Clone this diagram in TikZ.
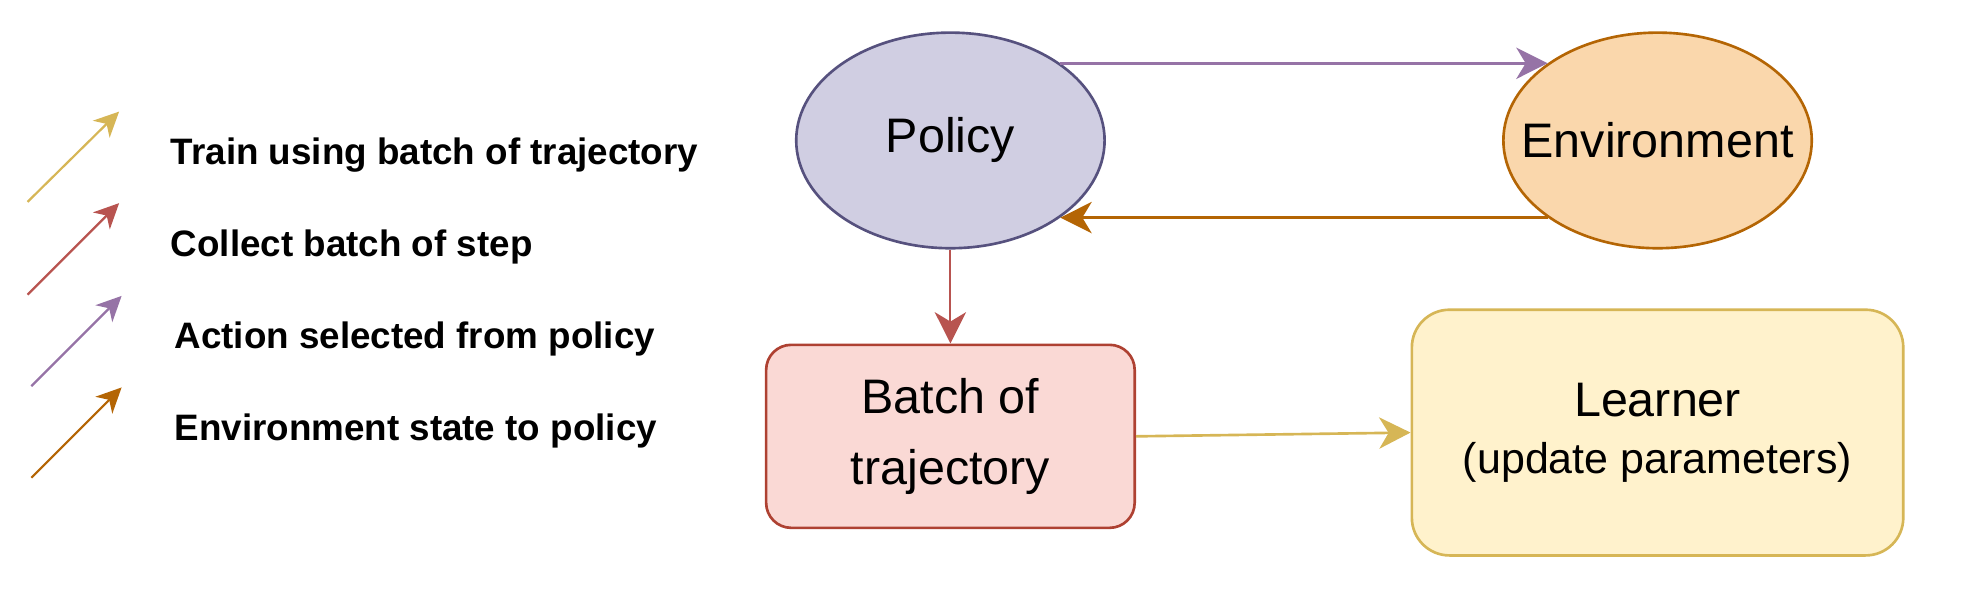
\documentclass[tikz,border=0pt]{standalone}
\usepackage{fontspec}
\setmainfont{Liberation Sans}
\usetikzlibrary{shapes.geometric,arrows.meta}
\definecolor{polF}{HTML}{D0CEE2}\definecolor{polD}{HTML}{56517E}
\definecolor{envF}{HTML}{FAD7AC}\definecolor{envD}{HTML}{B46504}
\definecolor{batF}{HTML}{FAD9D5}\definecolor{batD}{HTML}{AE4132}
\definecolor{lrnF}{HTML}{FFF2CC}\definecolor{lrnD}{HTML}{D6B656}
\definecolor{aPur}{HTML}{9673A6}\definecolor{aOra}{HTML}{B46504}
\definecolor{aRed}{HTML}{B85450}\definecolor{aYel}{HTML}{D6B656}
\begin{document}
\begin{tikzpicture}[x=0.02cm,y=-0.02cm,
  ell/.style={ellipse,draw,line width=1.2pt,minimum width=4.92cm,minimum height=3.44cm,inner sep=0pt,label={[font=\fontsize{22}{26}\selectfont]center:#1}},
  box/.style={rectangle,rounded corners=0.4cm,draw,line width=1.2pt,align=center,inner sep=0pt,font=\fontsize{22}{32}\selectfont},
  conn/.style={line width=1.2pt,-{Stealth[length=0.5cm,width=0.5cm,inset=0.15cm]}},
  leg/.style={line width=1pt,-{Stealth[length=0.4cm,width=0.38cm,inset=0.12cm]}},
  lt/.style={anchor=west,font=\bfseries\fontsize{16.7}{20}\selectfont}]
\useasboundingbox (0,0) rectangle (1568,470);
\node[ell=Policy,fill=polF,draw=polD] (pol) at (758,112) {};
\node[ell=Environment,fill=envF,draw=envD] (env) at (1322,112) {};
\node[box,fill=batF,draw=batD,minimum width=5.88cm,minimum height=2.92cm] (bat) at (758,348) {Batch of\\trajectory};
\node[box,fill=lrnF,draw=lrnD,minimum width=7.84cm,minimum height=3.92cm,rounded corners=0.6cm] (lrn) at (1322,345) {Learner\\[-6pt]{\fontsize{19.5}{23}\selectfont (update parameters)}};
\draw[conn,aPur] (pol.north east) -- (env.north west);
\draw[conn,aOra] (env.south west) -- (pol.south east);
\draw[conn,aRed,line width=0.9pt] (pol.south) -- (bat.north);
\draw[conn,aYel] (bat.east) -- (lrn.west);
\coordinate (a1) at (22,161); \coordinate (b1) at (95,89);
\coordinate (a2) at (22,235); \coordinate (b2) at (95,162);
\coordinate (a3) at (25,308); \coordinate (b3) at (97,236);
\coordinate (a4) at (25,381); \coordinate (b4) at (97,309);
\draw[leg,aYel] (a1) -- (b1);
\draw[leg,aRed] (a2) -- (b2);
\draw[leg,aPur] (a3) -- (b3);
\draw[leg,aOra] (a4) -- (b4);
\node[lt] (t1) at (130,124) {Train using batch of trajectory};
\node[lt] (t2) at (130,197) {Collect batch of step};
\node[lt] (t3) at (133,270) {Action selected from policy};
\node[lt] (t4) at (133,344) {Environment state to policy};
\end{tikzpicture}
\end{document}
